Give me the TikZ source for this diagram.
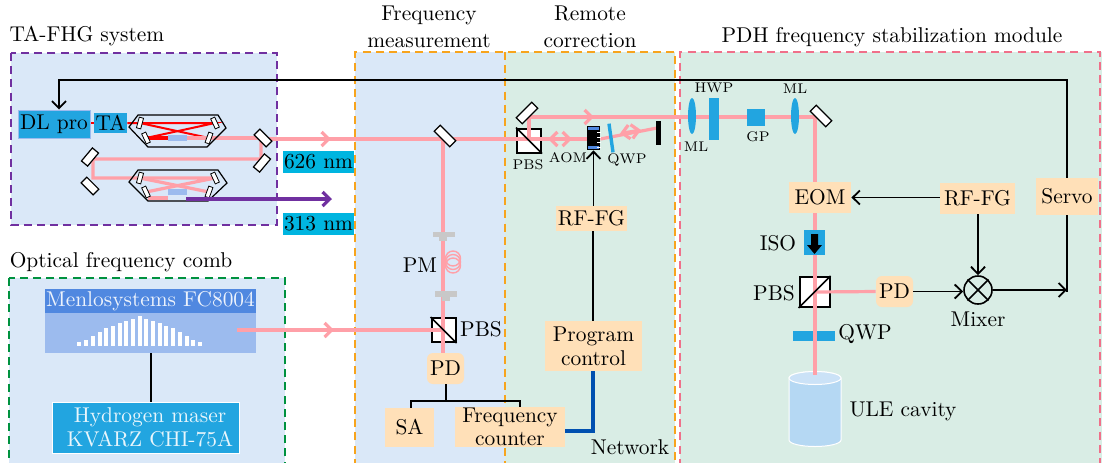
\documentclass[tikz,border=0pt]{standalone}
\usetikzlibrary{calc,shapes.geometric,arrows.meta}
\definecolor{bgblue}{HTML}{DAE8F8}
\definecolor{bggreen}{HTML}{D9EDE5}
\definecolor{beam}{HTML}{FFA0A8}
\definecolor{peach}{HTML}{FFE0B8}
\definecolor{skyb}{HTML}{22A5E0}
\definecolor{cyanb}{HTML}{00B5E0}
\definecolor{purp}{HTML}{7030A0}
\definecolor{orangeD}{HTML}{F7A41D}
\definecolor{pinkD}{HTML}{F0708A}
\definecolor{greenD}{HTML}{00923F}
\definecolor{combh}{HTML}{5088E0}
\definecolor{combb}{HTML}{9CBBEE}
\definecolor{netb}{HTML}{0050B0}
\definecolor{cylb}{HTML}{B5D8F3}
\definecolor{cylt}{HTML}{CBE2F7}
\definecolor{fibg}{HTML}{C8C8C8}
\pgfdeclarelayer{back}
\pgfdeclarelayer{optic}
\pgfdeclarelayer{beaml}
\pgfsetlayers{back,optic,beaml,main}
\tikzset{
 x=0.5pt,y=-0.5pt,
 font=\fontsize{10.7}{12.8}\selectfont,
 dashbox/.style={line width=1.1pt,dash pattern=on 4pt off 2.6pt},
 beamline/.style={draw=beam,line width=1.6pt},
 thinbeam/.style={draw=beam,line width=1.2pt},
 redline/.style={draw=red,line width=1pt},
 tiparrow/.style={-{Straight Barb[length=3.6pt,width=7pt]}},
 bothtip/.style={{Straight Barb[length=3.6pt,width=7pt]}-{Straight Barb[length=3.6pt,width=7pt]}},
 wire/.style={draw=black,line width=.9pt},
 peachbox/.style={fill=peach,inner sep=0pt,align=center},
 peachround/.style={peachbox,rounded corners=3pt},
 mirrorbox/.style={draw=black,fill=white,line width=.6pt,minimum width=11pt,minimum height=4.2pt,inner sep=0pt},
 mirrorsmall/.style={mirrorbox,minimum width=8.5pt,minimum height=4pt},
 cavmirror/.style={draw=black,fill=white,line width=.4pt,minimum width=5.5pt,minimum height=2.2pt,inner sep=0pt},
 pbsbox/.style={draw=black,fill=white,line width=1pt,minimum size=12pt,inner sep=0pt},
 cavhex/.style={draw=black,line width=.6pt},
 crystal/.style={fill=combb,minimum width=9.5pt,minimum height=2.6pt,inner sep=0pt},
 blueoptic/.style={fill=skyb,inner sep=0pt},
 wavebox/.style={fill=cyanb,inner sep=0pt,minimum width=35.5pt,minimum height=11pt},
 fibcon/.style={fill=fibg,inner sep=0pt},
 small/.style={font=\fontsize{7}{8}\selectfont,inner sep=0pt},
 lab/.style={inner sep=0pt,align=center},
}
\begin{document}
\begin{tikzpicture}
\useasboundingbox (0,0) rectangle (1102,462);
\clip (0,0) rectangle (1102,462);
% ---------- backgrounds
\begin{pgfonlayer}{back}
\fill[bgblue] (11,53) rectangle (277,225);
\fill[bgblue] (9,278) rectangle (285,480);
\fill[bgblue] (355,52) rectangle (505,480);
\fill[bggreen] (505,52) rectangle (675,480);
\fill[bggreen] (680,52) rectangle (1102,480);
\draw[dashbox,purp] (11,53) rectangle (277,225);
\draw[dashbox,greenD] (9,278) rectangle (285,480);
\draw[dashbox,orangeD] (505,52) -- (505,480);
\draw[dashbox,orangeD] (355,480) -- (355,52) -- (675,52) -- (675,480);
\draw[dashbox,pinkD] (680,480) -- (680,52) -- (1100,52) -- (1100,480);
\end{pgfonlayer}
% ---------- section titles
\node[lab] (t1) at (87,36) {TA-FHG system};
\node[lab] (t2) at (121,262) {Optical frequency comb};
\node[lab] (t3) at (429,27) {Frequency\\[1pt]measurement};
\node[lab] (t4) at (590,27) {Remote\\[1pt]correction};
\node[lab] (t5) at (892,37) {PDH frequency stabilization module};
% ---------- TA-FHG
\node[fill=skyb,draw=combb,line width=.5pt,minimum width=36pt,minimum height=14pt,inner sep=0pt] (dl) at (54,124) {DL pro};
\node[fill=skyb,minimum width=16.5pt,minimum height=10pt,inner sep=0pt] (ta) at (110.5,123) {TA};
\draw[cavhex] (129,127) coordinate (h1a) -- (138,115) -- (218,115) -- (226,128) -- (207,147) -- (148,147) -- cycle;
\draw[cavhex] (129,182) coordinate (h2a) -- (138,170) -- (218,170) -- (227,183) -- (208,201) -- (148,201) -- cycle;
\node[crystal] (x1) at (177.5,138) {};
\node[crystal] (x2) at (177.5,192) {};
\node[cavmirror,rotate=75] (c1a) at (140,123) {};
\node[cavmirror,rotate=-65] (c1b) at (215,123) {};
\node[cavmirror,rotate=-65] (c1c) at (146,138) {};
\node[cavmirror,rotate=70] (c1d) at (209,138) {};
\node[cavmirror,rotate=75] (c2a) at (140,178) {};
\node[cavmirror,rotate=-65] (c2b) at (215,178) {};
\node[cavmirror,rotate=-65] (c2c) at (146,192) {};
\node[cavmirror,rotate=70] (c2d) at (209,192) {};
\node[mirrorsmall,rotate=-45] (m1) at (263,138) {};
\node[mirrorsmall,rotate=50] (m2) at (262,163) {};
\node[mirrorsmall,rotate=50] (m3) at (90,157) {};
\node[mirrorsmall,rotate=-45] (m4) at (90,186) {};
\node[wavebox] (w1) at (318.5,162) {626 nm};
\node[wavebox] (w2) at (318.5,224) {313 nm};
\coordinate (b1) at (261,138);
\coordinate (b2) at (261,159);
\coordinate (b3) at (93,159);
\coordinate (b4) at (93,178);
\coordinate (s1) at (148,198);
\coordinate (s2) at (168,198);
\coordinate (p1) at (186,199);
\coordinate (p2) at (332,199);
\begin{pgfonlayer}{beaml}
\draw[redline] (dl.east |- ta) -- (ta.west);
\draw[redline] (ta.east) -- (c1a.center) -- (c1b.center) -- (c1c.center);
\draw[redline] (c1a.center) -- (c1d.center);
\draw[red,line width=1.7pt] (c1c.center) -- (x1.west);
\draw[beamline] (x1.east) -- (b1) -- (m1.center);
\draw[beamline] (b1) -- (b2) -- (b3) -- (b4) -- (c2b.center) -- (c2c.center);
\draw[beamline] (c2a.center) -- (c2d.center);
\draw[draw=beam,line width=2pt] (s1) -- (s2);
\end{pgfonlayer}
\draw[purp,line width=1.6pt,tiparrow] (p1) -- (p2);
% ---------- comb
\node[fill=combh,minimum width=105.5pt,minimum height=12pt,inner sep=0pt] (fc) at (150.5,301) {\color{white!90!combh}Menlosystems FC8004};
\node[fill=combb,minimum width=105.5pt,minimum height=20pt,inner sep=0pt] (fcb) at (150.5,333) {};
\foreach \xx/\yy in {79/342,86/340,93/336,100/332,106/328,113/326,120/323,126/321,133/319,140/316,146/319,153/321,160/323,166/326,173/328,180/332,187/336,193/340,200/342}
  \fill[white] (\xx-2,\yy) rectangle (\xx+2,346);
\node[fill=skyb,draw=white,line width=.5pt,minimum width=93.5pt,minimum height=25.5pt,inner sep=0pt] (hm) at (145.5,427.5) {};
\node[lab] (hmt) at (150,427) {\color{white!90!skyb}Hydrogen maser\\[-1pt]\color{white!90!skyb}KVARZ CHI-75A};
\coordinate (cv) at (151,380);
\draw[wire] (fcb.south -| cv) -- (hm.north -| cv);
% ---------- frequency measurement
\node[mirrorbox,rotate=-45] (m5) at (445,136) {};
\begin{pgfonlayer}{optic}
\node[pbsbox] (pbsa) at (443.5,330) {};
\node[pbsbox] (pbsb) at (529,140.5) {};
\node[pbsbox,minimum size=15pt] (pbsc) at (814.5,292) {};
\node[blueoptic,minimum width=21pt,minimum height=5pt] (qwpb) at (814,336) {};
\fill[cylb,draw=white,line width=.5pt] (789,378) -- (789,440) arc[start angle=180,end angle=0,x radius=26,y radius=6.5] -- (841,378) arc[start angle=0,end angle=-180,x radius=26,y radius=6.5] -- cycle;
\draw[fill=cylt,draw=white,line width=.5pt] (815,378) ellipse[x radius=26,y radius=6.5];
\coordinate (cyl) at (815,375);
\end{pgfonlayer}
\node[fibcon,minimum width=11pt,minimum height=2.5pt] (fa) at (444,234.5) {};
\node[fibcon,minimum width=4pt,minimum height=2pt] (fa2) at (443,239) {};
\node[fibcon,minimum width=11pt,minimum height=3pt] (fb) at (446,294) {};
\node[fibcon,minimum width=4pt,minimum height=2pt] (fb2) at (446,298.5) {};
\node[lab] (pml) at (420,265) {PM};
\node[lab] (pbsal) at (481,329) {PBS};
\node[peachround,minimum width=18.5pt,minimum height=15.5pt] (pd1) at (445.5,368.5) {PD};
\node[peachbox,minimum width=24.5pt,minimum height=19.5pt] (sa) at (409.5,427.5) {SA};
\node[peachbox,minimum width=55pt,minimum height=20pt] (fq) at (510,427) {Frequency\\[-1pt]counter};
\node[peachbox,minimum width=48.5pt,minimum height=25pt] (pc) at (593.5,346) {Program\\[-1pt]control};
\node[peachbox,minimum width=35.5pt,minimum height=12.5pt] (rfa) at (591.5,218.5) {RF-FG};
\node[lab] (netl) at (630,447) {Network};
\coordinate (tee) at (446,401);
\coordinate (teel) at (411,401);
\coordinate (teer) at (520,401);
\draw[wire] (pd1.south -| tee) -- (tee);
\draw[wire] (sa.north -| teel) -- (teel) -- (teer) -- (fq.north -| teer);
\coordinate (netc) at (593,431);
\draw[netb,line width=1.6pt] (fq.east |- netc) -- (netc) -- (pc.south -| netc);
% ---------- remote correction optics
\node[mirrorbox,rotate=45] (m6) at (527,113) {};
\node[fill=black,minimum width=6.5pt,minimum height=12pt,inner sep=0pt] (aom) at (593.5,138) {};
\fill[combh] (588,127) rectangle (599,130);
\fill[combh] (588,146) rectangle (599,149);
\foreach \yy in {132,137,142,147} \draw[white,line width=.3pt] (597,\yy) -- (601,\yy);
\node[fill=skyb,minimum width=1.7pt,minimum height=14.5pt,inner sep=0pt,rotate=8] (qwpa) at (611,138) {};
\node[fill=black,minimum width=2.5pt,minimum height=12pt,inner sep=0pt] (retro) at (658.5,133) {};
\node[small] (pbsbl) at (528,165) {PBS};
\node[small] (aoml) at (568,158) {AOM};
\node[small] (qwpal) at (627,160) {QWP};
\draw[wire,tiparrow] (rfa.north -| aom) -- (aom.south);
\draw[wire] (pc.north -| netc) -- (rfa.south -| netc);
% ---------- PDH
\node[blueoptic,ellipse,minimum width=4pt,minimum height=18pt] (ml1) at (692,116) {};
\node[blueoptic,minimum width=5pt,minimum height=21pt] (hwp) at (714,119) {};
\node[blueoptic,minimum width=9pt,minimum height=8.5pt] (gp) at (756,117) {};
\node[blueoptic,ellipse,minimum width=4pt,minimum height=18pt] (ml2) at (795,116) {};
\node[mirrorbox,rotate=-45] (m7) at (821,116) {};
\node[small] (ml1l) at (696,147) {ML};
\node[small] (hwpl) at (714,88) {HWP};
\node[small] (gpl) at (758,137) {GP};
\node[small] (ml2l) at (795,89) {ML};
\node[peachbox,minimum width=31pt,minimum height=15.5pt] (eom) at (820,197.5) {EOM};
\node[peachbox,minimum width=37.5pt,minimum height=15.5pt] (rfb) at (977.5,198.5) {RF-FG};
\node[peachbox,minimum width=31pt,minimum height=18.5pt] (servo) at (1067,196.5) {Servo};
\node[blueoptic,minimum width=10.5pt,minimum height=12.5pt] (iso) at (814.5,242.5) {};
\fill[black] (811,234) -- (818,234) -- (818,245) -- (822,245) -- (814.5,254) -- (807,245) -- (811,245) -- cycle;
\node[lab] (isol) at (778,243) {ISO};
\node[lab] (pbscl) at (774,293) {PBS};
\node[peachround,minimum width=18.5pt,minimum height=15.5pt] (pd2) at (894.5,291.5) {PD};
\node[circle,draw=black,line width=.8pt,minimum size=14pt,inner sep=0pt] (mix) at (978,290) {};
\draw[line width=.8pt] (mix.45) -- (mix.225) (mix.135) -- (mix.315);
\node[lab] (mixl) at (978,319) {Mixer};
\node[lab] (qwpbl) at (865,334) {QWP};
\node[lab] (ulel) at (903,411) {ULE cavity};
\coordinate (fbr) at (1067,80);
\coordinate (fbl) at (59,80);
\coordinate (mixend) at (1067,292);
\draw[wire,tiparrow] (servo.north) -- (fbr) -- (fbl) -- (fbl |- dl.north);
\draw[black,line width=1.3pt] (servo.south) -- (mixend);
\draw[wire,tiparrow] (mix.east) -- (mix.east -| mixend);
\draw[wire,tiparrow] (rfb.west |- eom.east) -- (eom.east);
\draw[wire,tiparrow] (mix |- rfb.south) -- (mix.north);
\draw[wire,tiparrow] (pd2.east) -- (mix.west |- pd2.east);
% ---------- beams of the middle part
\coordinate (y1) at (443,139);
\coordinate (y2) at (529,117);
\coordinate (y3) at (815,117);
\coordinate (yl) at (237,330);
\coordinate (rb) at (657,128);
\begin{pgfonlayer}{beaml}
\draw[beamline] (m1.center) -- (m1.center |- y1) -- (y1) -- (pbsb.center |- y1);
\draw[beamline] (y1) -- (y1 |- pbsa.center);
\draw[beamline] (y1 |- pbsa.center) -- (pd1.north -| y1);
\draw[beamline] (pbsb.center |- y1) -- (pbsb.center |- y2) -- (y3) -- (cyl);
\draw[beamline] (pbsb.center |- y1) -- (aom.west |- y1);
\draw[beamline] (aom.east |- y1) -- (rb);
\draw[beamline] (pbsc.center) -- (pd2.west);
\draw[draw=beam,line width=2.2pt] (298,139) -- (330,139);
\foreach \yy in {258.5,262,265.5} \draw[beam,line width=.7pt] (453,\yy) circle[radius=7.5];
\end{pgfonlayer}
\draw[beamline] (yl) -- (y1 |- yl);
\draw[beam,line width=1.6pt,tiparrow] (318,139) -- (331,139);
\draw[beam,line width=1.6pt,tiparrow] (320,330) -- (334,330);
\draw[beam,line width=1.6pt,tiparrow] (580,117) -- (594,117);
\draw[beam,line width=1.6pt,bothtip] (548,139) -- (572,139);
\draw[beam,line width=1.6pt,bothtip] (620,133.5) -- (641,130);
% PBS diagonals on top
\draw[line width=.8pt] (pbsa.north west) -- (pbsa.south east);
\draw[line width=.8pt] (pbsb.north west) -- (pbsb.south east);
\draw[line width=.8pt] (pbsc.south west) -- (pbsc.north east);
\end{tikzpicture}
\end{document}
